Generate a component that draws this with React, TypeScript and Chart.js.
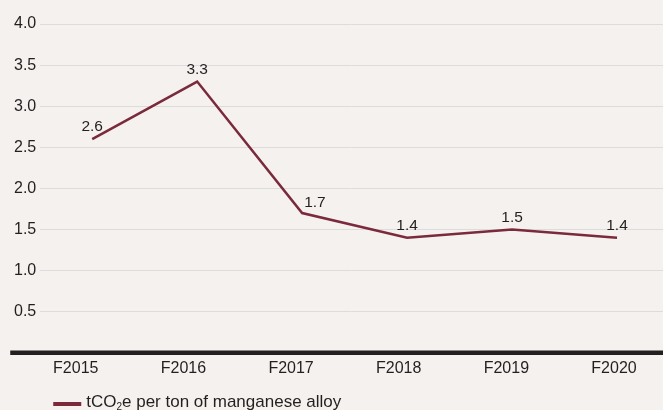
import React, { useEffect, useRef } from 'react';
import { Chart, registerables } from 'chart.js';

Chart.register(...registerables);

const categories = ['F2015', 'F2016', 'F2017', 'F2018', 'F2019', 'F2020'];
const values = [2.6, 3.3, 1.7, 1.4, 1.5, 1.4];
const yTickValues = [0, 0.5, 1.0, 1.5, 2.0, 2.5, 3.0, 3.5, 4.0];
const seriesName = 'tCO2e per ton of manganese alloy';
const legendParts = ['tCO', '2', 'e per ton of manganese alloy'];

const BG = '#f4f1ee';
const INK = '#231f20';
const LINE = '#7a2a3a';
const GRID = '#dcdcdc';
const SANS = '"Liberation Sans", Arial, Helvetica, sans-serif';

const customPlugin = {
  id: 'customDraw',
  beforeDraw(chart: any) {
    const { ctx } = chart;
    ctx.save();
    ctx.fillStyle = BG;
    ctx.fillRect(0, 0, chart.width, chart.height);
    ctx.restore();
  },
  afterDatasetsDraw(chart: any) {
    const { ctx, chartArea, scales } = chart;
    const y0 = scales.y.getPixelForValue(0);
    ctx.save();
    // baseline axis
    ctx.strokeStyle = INK;
    ctx.lineWidth = 4.5;
    ctx.beginPath();
    ctx.moveTo(chartArea.left - 30, y0);
    ctx.lineTo(chart.width, y0);
    ctx.stroke();

    // value labels (shifted right of the point when the line drops steeply into it)
    const meta = chart.getDatasetMeta(0);
    ctx.font = '15.5px ' + SANS;
    ctx.fillStyle = INK;
    ctx.textBaseline = 'alphabetic';
    meta.data.forEach((pt: any, i: number) => {
      const steepDrop = i > 0 && values[i - 1] - values[i] > 1;
      if (steepDrop) {
        ctx.textAlign = 'left';
        ctx.fillText(values[i].toFixed(1), pt.x + 2, pt.y - 6);
      } else {
        ctx.textAlign = 'center';
        ctx.fillText(values[i].toFixed(1), pt.x, pt.y - 8);
      }
    });

    // legend
    const lx = chartArea.left + 13;
    const ly = chart.height - 4;
    ctx.fillStyle = LINE;
    ctx.fillRect(lx, ly - 4, 28, 4);
    ctx.fillStyle = INK;
    ctx.textAlign = 'left';
    let x = lx + 33;
    const base = chart.height - 3;
    ctx.font = '17px ' + SANS;
    ctx.fillText(legendParts[0], x, base);
    x += ctx.measureText(legendParts[0]).width;
    ctx.font = '10px ' + SANS;
    ctx.fillText(legendParts[1], x, base + 3);
    x += ctx.measureText(legendParts[1]).width;
    ctx.font = '17px ' + SANS;
    ctx.fillText(legendParts[2], x, base);
    ctx.restore();
  },
};

export default function App() {
  const ref = useRef<HTMLCanvasElement | null>(null);

  useEffect(() => {
    document.body.style.margin = '0';
    document.body.style.background = BG;
    const canvas = ref.current;
    if (!canvas) return;
    const chart = new Chart(canvas, {
      type: 'line',
      data: {
        datasets: [
          {
            label: seriesName,
            data: categories.map((c, i) => ({ x: i, y: values[i] })),
            borderColor: LINE,
            backgroundColor: LINE,
            borderWidth: 2.5,
            pointRadius: 0,
            tension: 0,
            xAxisID: 'x',
            yAxisID: 'y',
          },
        ],
      },
      options: {
        animation: false,
        responsive: true,
        maintainAspectRatio: false,
        layout: { padding: { top: 24, left: 10, right: 0, bottom: 26 } },
        plugins: {
          legend: { display: false },
          tooltip: { enabled: false },
        },
        scales: {
          x: {
            type: 'linear',
            display: false,
            min: -0.495,
            max: 5.438,
          },
          x2: {
            type: 'linear',
            position: 'bottom',
            min: -0.33,
            max: 5.455,
            afterBuildTicks: (scale: any) => {
              scale.ticks = categories.map((_, i) => ({ value: i }));
            },
            grid: { display: false, drawTicks: false },
            border: { display: false },
            ticks: {
              padding: 6,
              autoSkip: false,
              maxRotation: 0,
              color: INK,
              font: { family: SANS, size: 16 },
              callback: (v: any) => categories[v as number] ?? '',
            },
          },
          y: {
            type: 'linear',
            min: 0,
            max: 4,
            afterBuildTicks: (scale: any) => {
              scale.ticks = yTickValues.map((v) => ({ value: v }));
            },
            grid: {
              color: (ctx: any) => (ctx.tick && ctx.tick.value === 0 ? 'rgba(0,0,0,0)' : GRID),
              lineWidth: 1,
              drawTicks: false,
            },
            border: { display: false },
            ticks: {
              padding: 4,
              color: INK,
              font: { family: SANS, size: 16 },
              callback: (v: any) => (v === 0 ? '' : Number(v).toFixed(1)),
            },
          },
        },
      },
      plugins: [customPlugin],
    });
    return () => chart.destroy();
  }, []);

  return (
    <div style={{ position: 'absolute', left: 0, top: 0, width: 663, height: 410, background: BG }}>
      <canvas ref={ref} />
    </div>
  );
}
